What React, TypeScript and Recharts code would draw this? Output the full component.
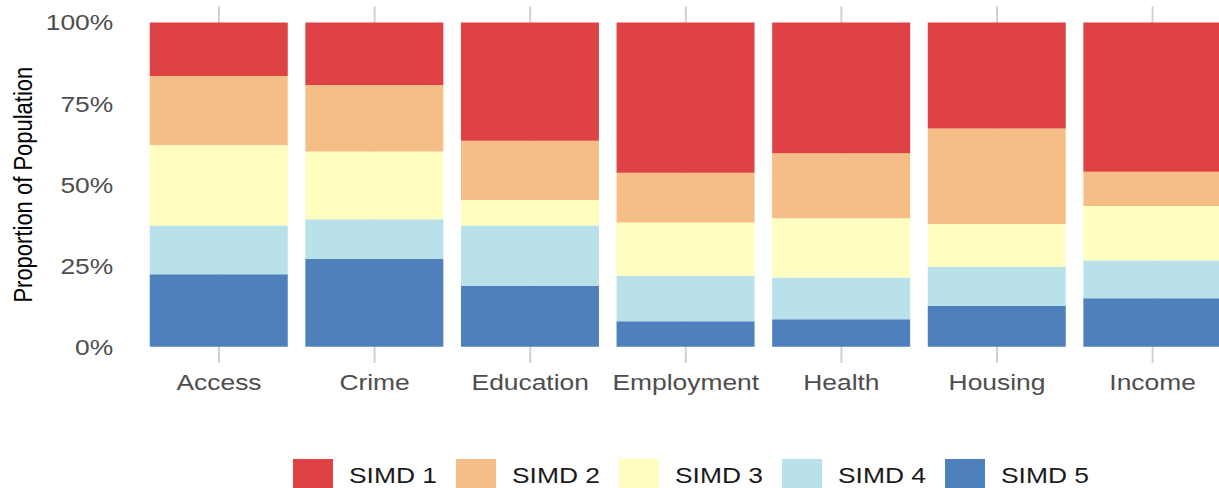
import React from 'react';
import { BarChart, Bar, XAxis, YAxis, CartesianGrid, Legend } from 'recharts';

const categories = ['Access', 'Crime', 'Education', 'Employment', 'Health', 'Housing', 'Income'];
const simd1 = [16.5, 19.3, 36.5, 46.3, 40.3, 32.7, 46.0];
const simd2 = [21.3, 20.5, 18.2, 15.4, 20.1, 29.4, 10.6];
const simd3 = [24.8, 20.9, 7.9, 16.4, 18.2, 13.2, 16.8];
const simd4 = [15.0, 12.2, 18.6, 14.0, 12.9, 12.1, 11.6];
const simd5 = [22.4, 27.1, 18.8, 7.9, 8.5, 12.6, 15.0];
const seriesNames = ['SIMD 1', 'SIMD 2', 'SIMD 3', 'SIMD 4', 'SIMD 5'];
const seriesColors = ['#DF4244', '#F5BE86', '#FFFDC0', '#B9E1EA', '#4E80BC'];
const yTicks = [0, 25, 50, 75, 100];
const yTitle = 'Proportion of Population';

const seriesValues = [simd1, simd2, simd3, simd4, simd5];
const data = categories.map((c, i) => {
  const row: Record<string, any> = { category: c };
  seriesNames.forEach((n, k) => {
    row[n] = seriesValues[k][i];
  });
  return row;
});

const FONT = '"Liberation Sans", Arial, Helvetica, sans-serif';
const SX = 1.2;

const YTick = (props: any) => {
  const { x, y, payload } = props;
  return (
    <text
      transform={`translate(${x},${y}) scale(${SX},1)`}
      textAnchor="end"
      dy="0.36em"
      fill="#4d4d4d"
      fontSize={22}
      fontFamily={FONT}
    >
      {payload.value}%
    </text>
  );
};

const XTick = (props: any) => {
  const { x, y, payload } = props;
  return (
    <text
      transform={`translate(${x},${y + 27}) scale(${SX},1)`}
      textAnchor="middle"
      fill="#4d4d4d"
      fontSize={22}
      fontFamily={FONT}
    >
      {payload.value}
    </text>
  );
};

const YTitle = (props: any) => {
  const vb = props.viewBox || { x: 0, y: 0, width: 0, height: 0 };
  return (
    <text
      transform={`translate(${vb.x + 22},${vb.y + vb.height / 2}) scale(${SX},1) rotate(-90)`}
      textAnchor="middle"
      dy="0.36em"
      fill="#000000"
      fontSize={22}
      fontFamily={FONT}
    >
      {yTitle}
    </text>
  );
};

const LegendContent = () => (
  <div
    style={{
      height: 45,
      paddingTop: 16,
      paddingLeft: 293,
      boxSizing: 'border-box',
      display: 'flex',
      alignItems: 'flex-start',
    }}
  >
    {seriesNames.map((n, i) => (
      <div key={n} style={{ display: 'flex', alignItems: 'center', width: 163, flex: '0 0 163px' }}>
        <div style={{ width: 40, height: 33, background: seriesColors[i], flex: '0 0 40px' }} />
        <span
          style={{
            marginLeft: 16,
            fontFamily: FONT,
            fontSize: 22,
            color: '#1a1a1a',
            display: 'inline-block',
            whiteSpace: 'nowrap',
            transform: `scaleX(${SX})`,
            transformOrigin: 'left center',
            lineHeight: '33px',
          }}
        >
          {n}
        </span>
      </div>
    ))}
  </div>
);

const gridGenerator = (args: any) => {
  const { offset, xAxis } = args || {};
  try {
    const scale = xAxis && xAxis.scale;
    if (scale && typeof scale.bandwidth === 'function') {
      const bw = scale.bandwidth();
      const pts = categories.map((c) => scale(c) + bw / 2);
      if (pts.every((p) => Number.isFinite(p))) return pts;
    }
  } catch (e) {
    // fall through
  }
  return categories.map((_, i) => offset.left + (offset.width * (i + 0.5)) / categories.length);
};

export default function App() {
  return (
    <div
      style={{
        position: 'absolute',
        left: 0,
        top: 0,
        width: 1219,
        height: 488,
        overflow: 'hidden',
        background: '#ffffff',
      }}
    >
      <BarChart
        width={1240}
        height={488}
        data={data}
        margin={{ top: 6.3, right: 9.6, bottom: 0, left: 0 }}
        barCategoryGap="5.5%"
        style={{ fontFamily: FONT }}
      >
        <CartesianGrid
          horizontal={false}
          vertical={true}
          stroke="#d2d2d2"
          strokeWidth={2}
          verticalCoordinatesGenerator={gridGenerator}
        />
        <XAxis
          dataKey="category"
          type="category"
          height={80}
          axisLine={false}
          tickLine={false}
          tickSize={0}
          tickMargin={0}
          interval={0}
          tick={<XTick />}
        />
        <YAxis
          type="number"
          domain={[-5, 105]}
          ticks={yTicks}
          width={141.2}
          axisLine={false}
          tickLine={false}
          tickSize={0}
          tickMargin={28}
          interval={0}
          allowDataOverflow={true}
          tick={<YTick />}
          label={<YTitle />}
        />
        <Legend verticalAlign="bottom" height={45} content={<LegendContent />} wrapperStyle={{ left: 0, width: 1240 }} />
        {[4, 3, 2, 1, 0].map((k) => (
          <Bar
            key={seriesNames[k]}
            dataKey={seriesNames[k]}
            stackId="a"
            fill={seriesColors[k]}
            isAnimationActive={false}
          />
        ))}
      </BarChart>
    </div>
  );
}
